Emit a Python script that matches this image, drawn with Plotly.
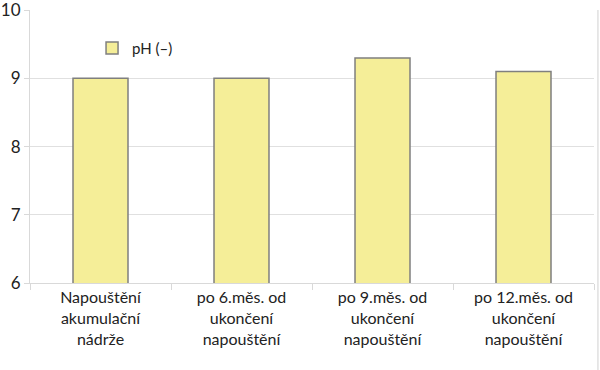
import plotly.graph_objects as go

categories = ["Napouštění<br>akumulační<br>nádrže",
              "po 6.měs. od<br>ukončení<br>napouštění",
              "po 9.měs. od<br>ukončení<br>napouštění",
              "po 12.měs. od<br>ukončení<br>napouštění"]
ph_values = [9.0, 9.0, 9.3, 9.1]
series_name = "pH (–)"
y_ticks = [6, 7, 8, 9, 10]

fig = go.Figure()
fig.add_trace(go.Bar(
    x=categories, y=ph_values, name=series_name,
    marker=dict(color="#F5EE98", line=dict(color="#7F7F7F", width=1.5)),
    showlegend=True,
))

font = "Lato, 'Open Sans', sans-serif"
fig.update_layout(
    width=600, height=370,
    margin=dict(l=30, r=6, t=10, b=87, autoexpand=False),
    paper_bgcolor="white", plot_bgcolor="white",
    bargap=0.61,
    font=dict(family=font, size=16, color="#222"),
    showlegend=True,
    legend=dict(x=0.11, y=0.86, xanchor="left", yanchor="middle",
                font=dict(size=15), bgcolor="rgba(0,0,0,0)"),
    xaxis=dict(showline=True, linecolor="#D9D9D9", linewidth=1,
               ticks="outside", tickson="boundaries", ticklen=6, tickcolor="#D9D9D9",
               showgrid=False, tickfont=dict(size=16), automargin=False),
    yaxis=dict(range=[6, 10.002], tickvals=y_ticks, showline=True, linecolor="#D9D9D9",
               showgrid=True, gridcolor="#E0E0E0", ticks="outside", ticklen=5,
               tickcolor="#D9D9D9", tickfont=dict(size=17), zeroline=False,
               automargin=False, ticklabeloverflow="allow"),
    shapes=[dict(type="line", xref="paper", yref="paper", x0=1.007, x1=1.007,
                 y0=-0.35, y1=1.0, line=dict(color="#D0D0D0", width=1))],
)
fig.write_html("out.html", config={"displayModeBar": False},
               post_script="document.body.style.margin='0';document.body.style.overflow='hidden';")
